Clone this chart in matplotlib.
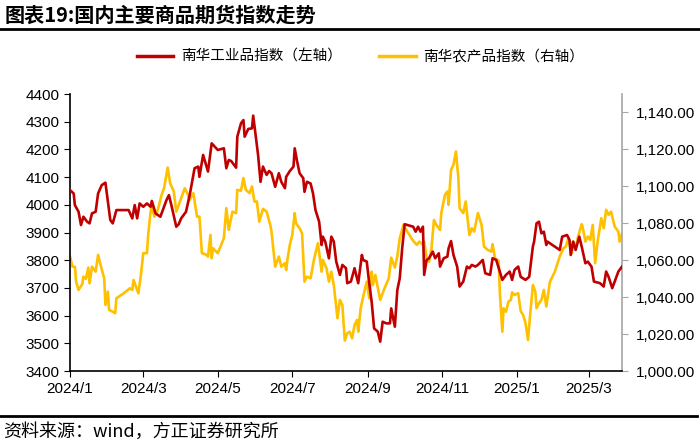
import matplotlib.pyplot as plt
import matplotlib.dates as mdates
from matplotlib.ticker import FuncFormatter, MultipleLocator
from matplotlib.lines import Line2D
import pandas as pd

plt.rcParams['font.family'] = ['Liberation Sans', 'Noto Sans CJK SC', 'DejaVu Sans']
CJK = ['Noto Sans CJK SC', 'DejaVu Sans']

base = pd.Timestamp("2024-01-01")

# 南华工业品指数 (left axis): days since 2024-01-01, index level
ind_day = [0, 3, 4, 7, 9, 11, 14, 16, 18, 21, 23, 26, 29, 31, 33, 35, 38, 48, 51, 53,
           55, 57, 60, 63, 66, 67, 70, 74, 76, 79, 81, 83, 87, 89, 91, 95, 98, 102, 105, 106,
           109, 113, 116, 121, 126, 128, 130, 132, 136, 137, 140, 142, 143, 146, 149, 150, 152, 154, 156, 158,
           161, 163, 165, 168, 171, 173, 176, 177, 180, 183, 184, 186, 188, 191, 192, 194, 197, 199, 201, 204,
           206, 207, 209, 212, 214, 216, 218, 221, 223, 226, 227, 230, 233, 236, 239, 240, 243, 245, 247, 249,
           252, 254, 256, 259, 262, 263, 266, 268, 270, 272, 274, 281, 283, 285, 287, 289, 290, 292, 294, 297,
           299, 302, 303, 306, 309, 310, 312, 314, 317, 319, 322, 325, 327, 329, 332, 334, 338, 340, 344, 346,
           349, 354, 357, 360, 362, 364, 367, 369, 373, 376, 379, 380, 382, 384, 386, 388, 390, 391, 401, 403,
           407, 409, 410, 412, 414, 417, 419, 422, 424, 427, 429, 434, 437, 439, 441, 444, 446, 449, 452]
ind_val = [4053, 4041, 3999, 3975, 3927, 3957, 3939, 3933, 3969, 3975, 4041, 4071, 4080, 4011, 3945, 3933, 3981, 3981, 3951, 3999,
           3951, 4005, 3993, 4005, 3993, 4014, 3969, 3957, 3981, 4017, 4035, 3999, 3921, 3930, 3951, 3975, 4035, 4132, 4138, 4101,
           4180, 4120, 4222, 4198, 4204, 4132, 4162, 4158, 4134, 4246, 4294, 4306, 4246, 4274, 4276, 4322, 4252, 4180, 4083, 4138,
           4108, 4122, 4114, 4065, 4114, 4083, 4060, 4101, 4122, 4138, 4204, 4156, 4114, 4096, 4047, 4083, 4077, 4041, 3981, 3939,
           3855, 3885, 3867, 3807, 3885, 3867, 3795, 3747, 3783, 3771, 3717, 3723, 3771, 3717, 3819, 3801, 3795, 3717, 3650, 3554,
           3542, 3506, 3578, 3572, 3572, 3626, 3560, 3692, 3735, 3843, 3930, 3921, 3903, 3921, 3903, 3921, 3747, 3801, 3807, 3831,
           3807, 3825, 3777, 3807, 3813, 3843, 3869, 3819, 3777, 3705, 3723, 3777, 3771, 3783, 3777, 3783, 3801, 3753, 3747, 3807,
           3801, 3729, 3747, 3759, 3729, 3765, 3777, 3740, 3729, 3740, 3849, 3867, 3933, 3939, 3897, 3903, 3855, 3867, 3837, 3885,
           3891, 3873, 3819, 3867, 3837, 3885, 3849, 3789, 3795, 3777, 3723, 3717, 3705, 3759, 3740, 3699, 3723, 3759, 3777]

# 南华农产品指数 (right axis)
agr_day = [0, 2, 4, 5, 7, 10, 11, 13, 15, 16, 18, 21, 23, 25, 28, 29, 31, 32, 35, 37,
           38, 44, 49, 51, 52, 54, 56, 58, 60, 63, 64, 66, 67, 69, 71, 73, 75, 77, 80, 82,
           85, 87, 90, 94, 96, 98, 101, 104, 106, 108, 111, 113, 115, 116, 117, 121, 126, 128, 130, 133,
           136, 137, 140, 142, 144, 147, 149, 151, 153, 155, 158, 161, 164, 165, 168, 171, 173, 176, 177, 178,
           180, 182, 184, 185, 188, 190, 192, 194, 197, 200, 203, 206, 207, 210, 212, 214, 216, 219, 221, 223,
           225, 227, 229, 231, 233, 235, 236, 238, 241, 243, 245, 247, 248, 250, 254, 257, 261, 263, 266, 268,
           270, 273, 277, 281, 284, 286, 289, 290, 292, 294, 296, 298, 300, 303, 304, 307, 309, 310, 312, 314,
           316, 318, 319, 322, 324, 327, 329, 331, 332, 334, 337, 339, 342, 345, 346, 348, 351, 352, 354, 355,
           357, 359, 361, 362, 364, 367, 369, 371, 373, 375, 377, 379, 381, 382, 384, 386, 388, 390, 393, 397,
           401, 404, 406, 408, 410, 411, 412, 414, 416, 419, 420, 422, 424, 426, 428, 430, 432, 435, 437, 439,
           441, 443, 446, 449, 450, 452]
agr_val = [1062.0, 1056.5, 1056.5, 1048.4, 1043.9, 1047.0, 1051.1, 1049.9, 1056.0, 1047.5, 1056.5, 1053.8, 1062.9, 1057.5, 1050.2, 1035.8, 1043.0, 1033.1, 1032.1, 1031.3,
           1039.4, 1042.1, 1044.8, 1043.9, 1049.3, 1045.7, 1042.1, 1051.7, 1063.8, 1063.8, 1073.7, 1086.3, 1089.1, 1083.6, 1085.5, 1090.0, 1095.4, 1099.0, 1110.2, 1101.7,
           1097.2, 1086.3, 1091.8, 1099.0, 1096.3, 1092.7, 1096.3, 1083.6, 1083.6, 1063.8, 1063.2, 1062.0, 1073.7, 1061.1, 1066.5, 1063.8, 1071.9, 1088.2, 1076.4, 1086.3,
           1085.5, 1098.1, 1097.6, 1104.5, 1098.1, 1096.3, 1099.9, 1091.8, 1091.8, 1080.9, 1087.8, 1086.3, 1079.1, 1075.5, 1056.5, 1062.0, 1056.5, 1058.4, 1054.7, 1060.2,
           1068.3, 1073.7, 1085.5, 1080.0, 1077.3, 1074.6, 1048.4, 1051.1, 1050.2, 1061.1, 1069.2, 1053.8, 1060.2, 1055.7, 1048.4, 1053.8, 1046.6, 1028.6, 1038.5, 1035.8,
           1016.5, 1020.4, 1021.3, 1017.7, 1024.9, 1027.6, 1021.3, 1034.0, 1043.0, 1048.4, 1039.4, 1053.8, 1046.6, 1052.0, 1038.5, 1043.9, 1050.2, 1061.4, 1056.0, 1062.0,
           1071.9, 1079.1, 1074.6, 1070.5, 1068.3, 1070.1, 1068.3, 1070.1, 1061.1, 1059.2, 1066.5, 1081.8, 1079.1, 1076.4, 1085.5, 1095.4, 1097.2, 1090.0, 1108.9, 1111.7,
           1118.9, 1104.5, 1088.2, 1085.5, 1091.8, 1073.7, 1077.3, 1075.5, 1079.1, 1085.5, 1079.1, 1067.4, 1065.6, 1064.7, 1068.7, 1061.1, 1059.6, 1042.1, 1021.3, 1034.0,
           1032.1, 1037.6, 1038.5, 1042.6, 1041.2, 1042.1, 1032.5, 1030.4, 1025.9, 1016.8, 1032.1, 1046.6, 1043.0, 1034.0, 1036.7, 1038.5, 1043.9, 1034.9, 1048.4, 1053.8,
           1062.0, 1066.5, 1067.4, 1071.9, 1066.5, 1063.8, 1070.1, 1066.5, 1072.8, 1079.5, 1077.3, 1070.1, 1072.8, 1071.0, 1079.1, 1058.4, 1070.1, 1082.7, 1077.3, 1087.3,
           1084.6, 1086.3, 1078.2, 1075.5, 1070.1, 1074.6]

x_ticks = ["2024-01-01", "2024-03-01", "2024-05-01", "2024-07-01", "2024-09-01",
           "2024-11-01", "2025-01-01", "2025-03-01"]
x_labels = ["2024/1", "2024/3", "2024/5", "2024/7", "2024/9", "2024/11", "2025/1", "2025/3"]

ind_dates = base + pd.to_timedelta(ind_day, unit="D")
agr_dates = base + pd.to_timedelta(agr_day, unit="D")

RED = "#C00000"
YEL = "#FFC000"

fig = plt.figure(figsize=(7, 4.42), dpi=100)
ax = fig.add_axes([0.1, 0.1606, 0.7886, 0.6267])
ax2 = ax.twinx()

ax.plot(ind_dates, ind_val, color=RED, lw=1.9, zorder=3)
ax2.plot(agr_dates, agr_val, color=YEL, lw=1.9, zorder=2)
ax.set_zorder(ax2.get_zorder() + 1)
ax.patch.set_visible(False)

ax.set_ylim(3400, 4400)
ax.yaxis.set_major_locator(MultipleLocator(100))
ax2.set_ylim(1000, 1150)
ax2.set_yticks([1000, 1020, 1040, 1060, 1080, 1100, 1120, 1140])
ax2.yaxis.set_major_formatter(FuncFormatter(lambda v, p: f"{v:,.2f}"))

ax.set_xlim(base, base + pd.Timedelta(days=452))
ax.set_xticks(pd.to_datetime(x_ticks))
ax.set_xticklabels(x_labels)

for a in (ax, ax2):
    a.spines['top'].set_visible(False)
ax.spines['right'].set_visible(False)
ax2.spines['left'].set_visible(False)
ax2.spines['bottom'].set_visible(False)
ax.spines['left'].set_color('black')
ax.spines['bottom'].set_color('black')
ax.spines['left'].set_linewidth(1.2)
ax.spines['bottom'].set_linewidth(1.2)
ax2.spines['right'].set_color('#A6A6A6')
ax2.spines['right'].set_linewidth(1.2)

ax.tick_params(axis='both', direction='out', length=4, labelsize=11, colors='black')
ax.tick_params(axis='x', pad=4)
ax2.tick_params(axis='y', direction='out', length=4, labelsize=11, color='#A6A6A6', labelcolor='black', pad=6)

# legend
handles = [Line2D([], [], color=RED, lw=2.5), Line2D([], [], color=YEL, lw=2.5)]
fig.legend(handles, ["南华工业品指数（左轴）", "南华农产品指数（右轴）"], loc='center',
           bbox_to_anchor=(0.515, 0.871), ncol=2, frameon=False, handlelength=2.5,
           columnspacing=2.6, handletextpad=0.5, prop={'family': CJK, 'size': 10.5})

# title, rules and source
fig.text(0.006, 0.965, "图表19:国内主要商品期货指数走势", family=CJK, fontsize=14.5,
         weight='bold', ha='left', va='center')
fig.add_artist(Line2D([0, 1], [0.935, 0.935], color='black', lw=2))
fig.add_artist(Line2D([0, 0.996], [0.058, 0.058], color='black', lw=2))
fig.text(0.004, 0.022, "资料来源：wind，方正证券研究所", family=CJK, fontsize=13,
         style='italic', ha='left', va='center')

fig.savefig("out.png", dpi=100)
